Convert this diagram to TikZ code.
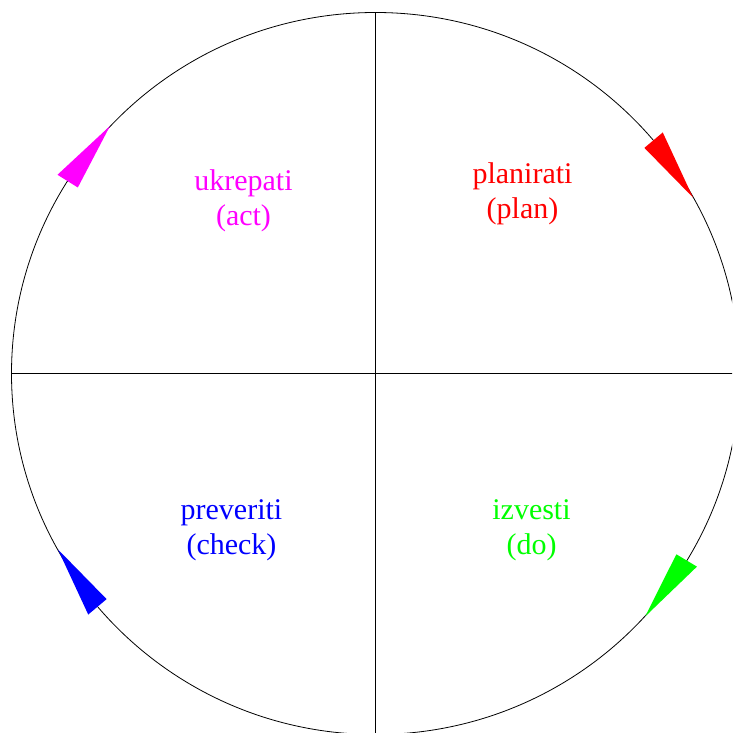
\documentclass[tikz,border=0pt]{standalone}
\usepackage{fontspec}
\setmainfont{Liberation Serif}
\definecolor{planred}{RGB}{255,0,0}
\definecolor{dogreen}{RGB}{0,255,0}
\definecolor{checkblue}{RGB}{0,0,255}
\definecolor{actmagenta}{RGB}{255,0,255}
\tikzset{
  phase/.style={align=center, font=\fontsize{30}{35}\selectfont}
}
\begin{document}
\begin{tikzpicture}[x=1pt,y=1pt,line width=0.8pt]

\useasboundingbox (-375.5,-359.5) rectangle (356.5,373.5);
\clip (-375.5,-359.5) rectangle (356.5,373.5);

% Krog
\draw (0,0) ellipse (364 and 361);

% Osi
\draw (0,361) -- (0,-361);
\draw (-364,0) -- (364,0);

% Planirati
\fill[planred] (40:351) -- (40:375) -- (29:363) -- cycle;
\node[phase,text=planred] (plan) at (147,180) {planirati\\(plan)};

% Izvesti
\fill[dogreen] (-31:351) -- (-31:375) -- (-42:363) -- cycle;
\node[phase,text=dogreen] (do) at (156,-157) {izvesti\\(do)};

% Preveriti
\fill[checkblue] (220:351) -- (220:375) -- (209:363) -- cycle;
\node[phase,text=checkblue] (check) at (-144,-157) {preveriti\\(check)};

% Ukrepati
\fill[actmagenta] (148:351) -- (148:375) -- (137:363) -- cycle;
\node[phase,text=actmagenta] (act) at (-132,173) {ukrepati\\(act)};

\end{tikzpicture}
\end{document}
